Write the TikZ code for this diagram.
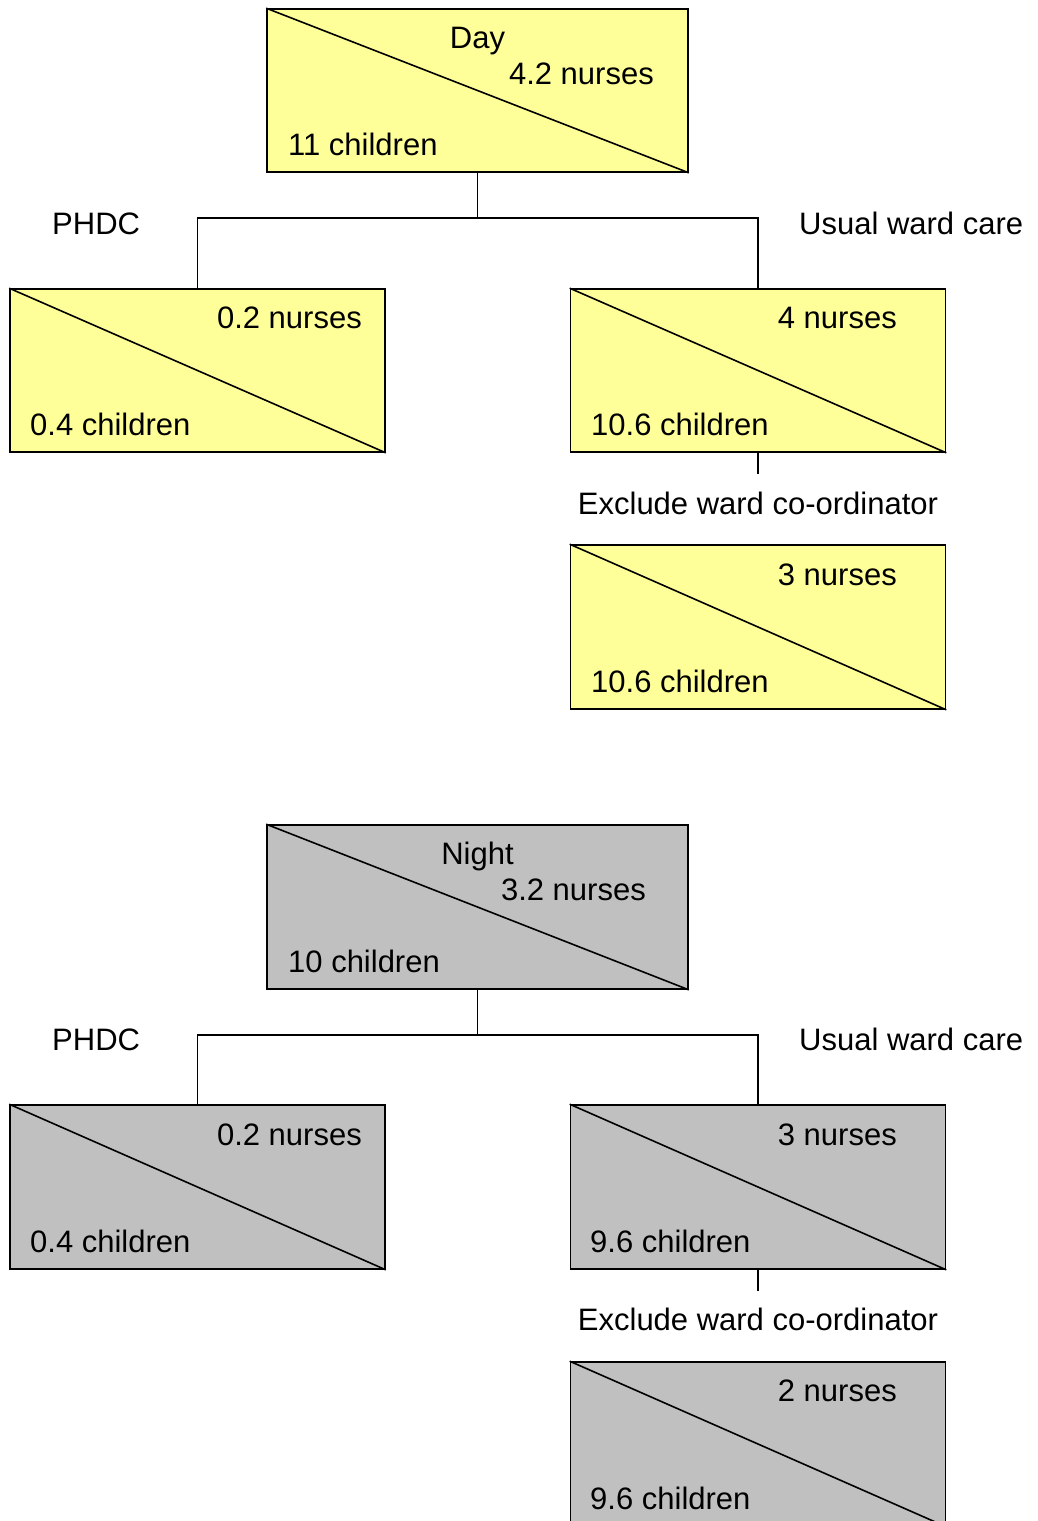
\documentclass[tikz,border=0pt]{standalone}
\usepackage{fontspec}
\setmainfont{Liberation Sans}
\definecolor{dayfill}{HTML}{FFFF99}
\definecolor{nightfill}{HTML}{C0C0C0}
\begin{document}
\begin{tikzpicture}[x=1pt,y=-1pt,
  cell/.style={draw=black, line width=1.6pt, inner sep=0pt, minimum height=163pt},
  wide/.style={cell, minimum width=421pt},
  narrow/.style={cell, minimum width=375pt},
  lbl/.style={inner sep=0pt, font=\fontsize{31}{37}\selectfont},
  conn/.style={draw=black, line width=1.6pt}]
\useasboundingbox (0,0) rectangle (1038,1521);
\fill[white] (0,0) rectangle (1038,1521);

% ---------- Day ----------
\node[wide, fill=dayfill] (day) at (477.5,90.5) {};
\node[narrow, fill=dayfill] (dphdc) at (197.5,370.5) {};
\node[narrow, fill=dayfill] (dusual) at (758,370.5) {};
\node[narrow, fill=dayfill, minimum height=164pt] (dexcl) at (758,627) {};
\foreach \b in {day,dphdc,dusual,dexcl}
  \draw[conn] (\b.north west) -- (\b.south east);

\coordinate (dj) at (477.5,218);
\coordinate (dstub) at (758,474);
\draw[conn] (day.south) -- (dj);
\draw[conn] (dj) -| (dphdc.north);
\draw[conn] (dj) -| (dusual.north);
\draw[conn] (dusual.south) -- (dstub);

\node[lbl, anchor=base] (tday) at (477.5,48) {Day};
\node[lbl, anchor=base east] (tdayn) at (654,84) {4.2 nurses};
\node[lbl, anchor=base west] (tdayc) at (288,155) {11 children};
\node[lbl, anchor=base west] (tdphdc) at (52,234) {PHDC};
\node[lbl, anchor=base west] (tdusual) at (799,234) {Usual ward care};
\node[lbl, anchor=base east] (tdpn) at (362,328) {0.2 nurses};
\node[lbl, anchor=base west] (tdpc) at (30,435) {0.4 children};
\node[lbl, anchor=base east] (tdun) at (897,328) {4 nurses};
\node[lbl, anchor=base west] (tduc) at (591,435) {10.6 children};
\node[lbl, anchor=base] (tdex) at (758,514) {Exclude ward co-ordinator};
\node[lbl, anchor=base east] (tden) at (897,585) {3 nurses};
\node[lbl, anchor=base west] (tdec) at (591,692) {10.6 children};

% ---------- Night ----------
\node[wide, fill=nightfill, minimum height=164pt] (night) at (477.5,907) {};
\node[narrow, fill=nightfill, minimum height=164pt] (nphdc) at (197.5,1187) {};
\node[narrow, fill=nightfill, minimum height=164pt] (nusual) at (758,1187) {};
\node[narrow, fill=nightfill, minimum height=164pt] (nexcl) at (758,1444) {};
\foreach \b in {night,nphdc,nusual,nexcl}
  \draw[conn] (\b.north west) -- (\b.south east);

\coordinate (nj) at (477.5,1035);
\coordinate (nstub) at (758,1291);
\draw[conn] (night.south) -- (nj);
\draw[conn] (nj) -| (nphdc.north);
\draw[conn] (nj) -| (nusual.north);
\draw[conn] (nusual.south) -- (nstub);

\node[lbl, anchor=base] (tnight) at (477.5,864) {Night};
\node[lbl, anchor=base east] (tnightn) at (646,900) {3.2 nurses};
\node[lbl, anchor=base west] (tnightc) at (288,972) {10 children};
\node[lbl, anchor=base west] (tnphdc) at (52,1050) {PHDC};
\node[lbl, anchor=base west] (tnusual) at (799,1050) {Usual ward care};
\node[lbl, anchor=base east] (tnpn) at (362,1145) {0.2 nurses};
\node[lbl, anchor=base west] (tnpc) at (30,1252) {0.4 children};
\node[lbl, anchor=base east] (tnun) at (897,1145) {3 nurses};
\node[lbl, anchor=base west] (tnuc) at (590,1252) {9.6 children};
\node[lbl, anchor=base] (tnex) at (758,1330) {Exclude ward co-ordinator};
\node[lbl, anchor=base east] (tnen) at (897,1401) {2 nurses};
\node[lbl, anchor=base west] (tnec) at (590,1509) {9.6 children};
\end{tikzpicture}
\end{document}
